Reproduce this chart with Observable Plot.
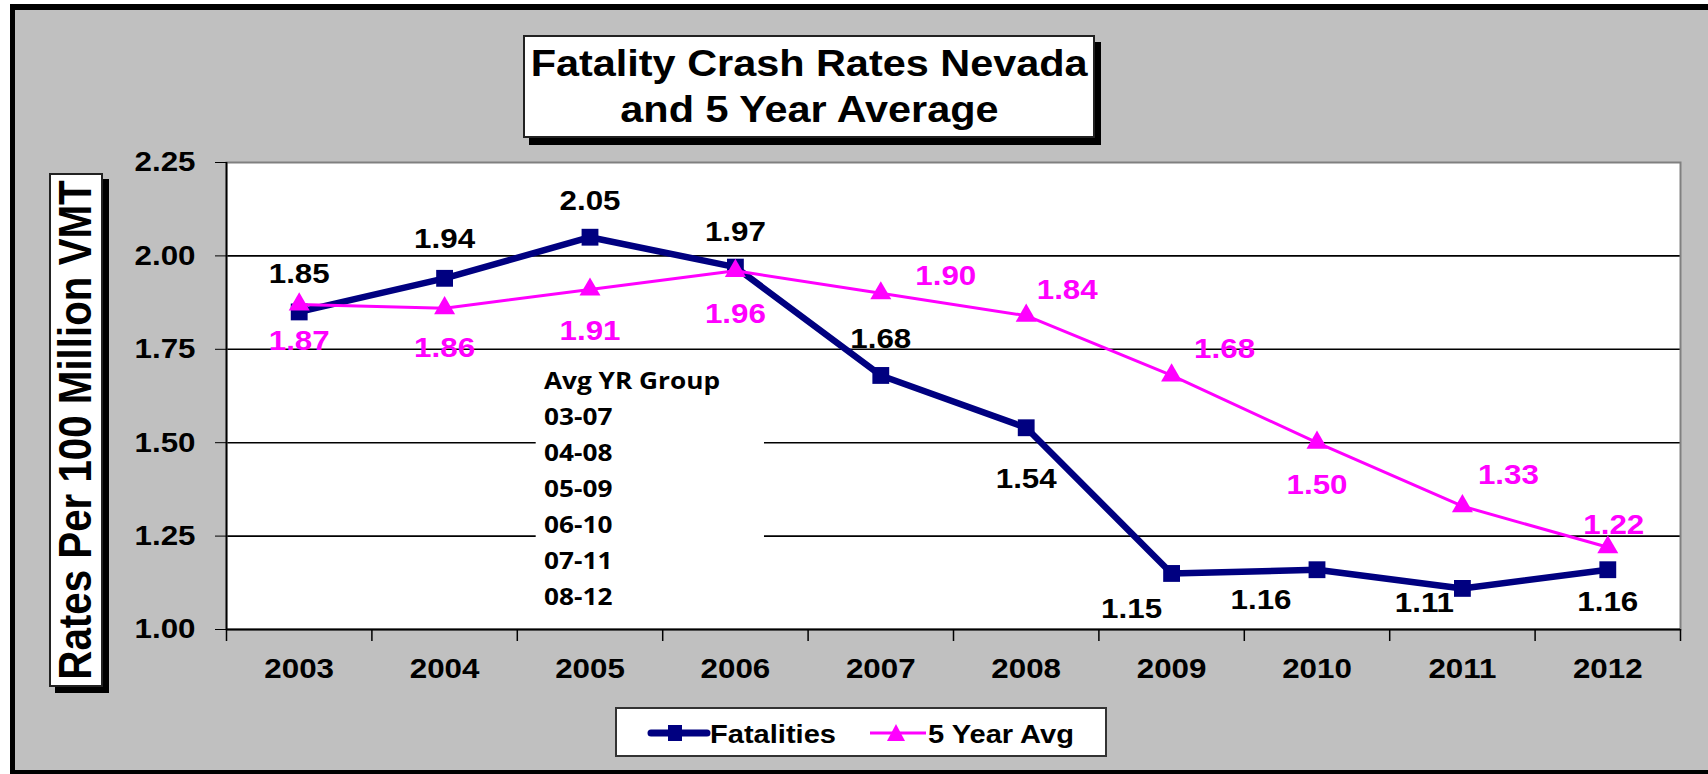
<!DOCTYPE html>
<html>
<head>
<meta charset="utf-8">
<script src="https://cdn.jsdelivr.net/npm/d3@7"></script>
<script src="https://cdn.jsdelivr.net/npm/@observablehq/plot@0.6"></script>
<style>
  html, body { margin: 0; padding: 0; background: #ffffff; }
  #wrap { position: relative; width: 1708px; height: 774px; overflow: hidden; background: #ffffff; }
  #bg { position: absolute; left: 10px; top: 4px; width: 1720px; height: 760px; background: #C0C0C0;
        border-top: 6px solid #000; border-left: 5px solid #000; border-bottom: 4px solid #000; }
  #chart { position: absolute; left: 0; top: 0; }
  #title { position: absolute; left: 523px; top: 35px; width: 572px; height: 103px; box-sizing: border-box;
           border: 2px solid #222; background: #fff; box-shadow: 6px 7px 0 #000;
           font-family: 'Liberation Sans', Arial, sans-serif; font-weight: bold; font-size: 36px;
           line-height: 46px; text-align: center; padding-top: 4px; color: #000; }
  #title span { display: inline-block; transform: scaleX(1.15); white-space: nowrap; }
  #ylab { position: absolute; left: 49px; top: 173px; width: 54px; height: 514px; box-sizing: border-box;
          border: 2px solid #222; background: #fff; box-shadow: 6px 6px 0 #000; }
  #ylab span { position: absolute; left: 50%; top: 50%; white-space: nowrap;
               transform: translate(-50%, -50%) rotate(-90deg) scaleY(1.14);
               font-family: 'Liberation Sans', Arial, sans-serif; font-weight: bold; font-size: 40.3px; color: #000; }
  #legend { position: absolute; left: 615px; top: 707px; }
</style>
</head>
<body>
<div id="wrap">
  <div id="bg"></div>
  <div id="chart"></div>
  <div id="title"></div>
  <div id="ylab"><span></span></div>
  <svg id="legend" width="494" height="52"></svg>
</div>
<script>
// ---------- data ----------
const years = [2003, 2004, 2005, 2006, 2007, 2008, 2009, 2010, 2011, 2012];
const fatalities = [1.85, 1.94, 2.05, 1.97, 1.68, 1.54, 1.15, 1.16, 1.11, 1.16];
const fiveYearAvg = [1.87, 1.86, 1.91, 1.96, 1.90, 1.84, 1.68, 1.50, 1.33, 1.22];
const yTicks = [1.00, 1.25, 1.50, 1.75, 2.00, 2.25];
const gridValues = [1.25, 1.50, 1.75, 2.00];
const avgGroups = ["Avg YR Group", "03-07", "04-08", "05-09", "06-10", "07-11", "08-12"];
const seriesNames = ["Fatalities", "5 Year Avg"];
const titleLines = ["Fatality Crash Rates Nevada", "and 5 Year Average"];
const yLabel = "Rates Per 100 Million VMT";

// ---------- label placement (pixel offsets from each point: [dx, baseline dy]) ----------
const fatalOffsets = [[0, -29], [0, -30], [0, -27], [0, -26], [0, -27], [0, 60], [-40, 45], [-56, 39], [-38, 24], [0, 41]];
const avgOffsets   = [[0, 46], [0, 49], [0, 50], [0, 52], [65, -8], [41, -17], [53, -17], [0, 51], [46, -22], [6, -13]];

// ---------- styles ----------
const NAVY = "#000080", MAGENTA = "#FF00FF";
const FONT = "'Liberation Sans', Arial, sans-serif";
const STRETCH = 1.14;
const fmt = d3.format(".2f");

const fat = years.map((y, i) => ({year: y, value: fatalities[i]}));
const avg = years.map((y, i) => ({year: y, value: fiveYearAvg[i]}));
const bounds = [...years.map(y => y - 0.5), years[years.length - 1] + 0.5];
const xMin = bounds[0], xMax = bounds[bounds.length - 1];

const labelMarks = [
  ...fat.map((d, i) => Plot.text([d], {x: "year", y: "value", text: d => fmt(d.value),
      dx: fatalOffsets[i][0], dy: fatalOffsets[i][1], lineAnchor: "bottom",
      fill: "#000", fontSize: 27.5, fontWeight: "bold", fontFamily: FONT})),
  ...avg.map((d, i) => Plot.text([d], {x: "year", y: "value", text: d => fmt(d.value),
      dx: avgOffsets[i][0], dy: avgOffsets[i][1], lineAnchor: "bottom",
      fill: MAGENTA, fontSize: 27.5, fontWeight: "bold", fontFamily: FONT}))
];

const plot = Plot.plot({
  width: 1708, height: 774,
  marginLeft: 226, marginRight: 28, marginTop: 162, marginBottom: 145,
  style: {background: "transparent", fontFamily: FONT, fontWeight: "bold", fontSize: "27px", color: "#000", overflow: "visible"},
  x: {domain: [xMin, xMax]},
  y: {domain: [yTicks[0], yTicks[yTicks.length - 1]]},
  marks: [
    Plot.frame({fill: "white"}),
    Plot.ruleY(gridValues, {stroke: "#000", strokeWidth: 1.6}),
    // white annotation box behind the "Avg YR Group" list
    Plot.rect([0], {x1: () => 2004.63, x2: () => 2006.2, y1: () => 1.04, y2: () => 1.72, fill: "white"}),
    Plot.text([avgGroups.join("\n")], {x: () => 2005, y: () => 1.713, text: d => d, textAnchor: "start",
      lineAnchor: "top", lineHeight: 36 / 23, dx: -46, fontFamily: "'Open Sans', sans-serif",
      fontSize: 23, fontWeight: "bold", fill: "#000"}),
    Plot.frame({stroke: "#808080", strokeWidth: 2}),
    Plot.ruleX([xMin], {stroke: "#000", strokeWidth: 1.8}),
    Plot.ruleY([yTicks[0]], {stroke: "#000", strokeWidth: 1.8}),
    Plot.axisY({ticks: yTicks, tickFormat: fmt, tickSize: 11, tickPadding: 20, label: null,
      fontSize: 27.5, fontWeight: "bold", stroke: "#000"}),
    Plot.axisX({ticks: bounds, tickFormat: () => "", tickSize: 12, label: null, stroke: "#000", strokeWidth: 1.5}),
    Plot.axisX({ticks: years, tickFormat: d => String(d), tickSize: 0, tickPadding: 29, label: null,
      fontSize: 27.5, fontWeight: "bold"}),
    Plot.line(fat, {x: "year", y: "value", stroke: NAVY, strokeWidth: 6.5, strokeLinejoin: "round"}),
    Plot.dot(fat, {x: "year", y: "value", symbol: "square", r: 9.5, fill: NAVY, stroke: "none"}),
    Plot.line(avg, {x: "year", y: "value", stroke: MAGENTA, strokeWidth: 3, strokeLinejoin: "round"}),
    Plot.dot(avg, {x: "year", y: "value", symbol: "triangle", r: 7.8, fill: MAGENTA, stroke: "none"}),
    ...labelMarks
  ]
});

// stretch text horizontally around each text's anchor (the original's lettering is wide)
plot.querySelectorAll("text").forEach(t => {
  const x = parseFloat(t.getAttribute("x")) || 0;
  const tr = t.getAttribute("transform") || "";
  t.setAttribute("transform", `${tr} translate(${x},0) scale(${STRETCH},1) translate(${-x},0)`);
});
document.getElementById("chart").appendChild(plot);

// title
document.getElementById("title").innerHTML = titleLines.map(l => `<span>${l}</span>`).join("<br>");
// y label
document.querySelector("#ylab span").textContent = yLabel;

// legend
const lg = d3.select("#legend");
lg.append("rect").attr("x", 1).attr("y", 1).attr("width", 490).attr("height", 48)
  .attr("fill", "#fff").attr("stroke", "#333").attr("stroke-width", 2);
// Fatalities entry
lg.append("line").attr("x1", 36).attr("x2", 92).attr("y1", 26).attr("y2", 26)
  .attr("stroke", NAVY).attr("stroke-width", 7).attr("stroke-linecap", "round");
lg.append("rect").attr("x", 53).attr("y", 18).attr("width", 14).attr("height", 16).attr("fill", NAVY);
lg.append("text").attr("transform", `translate(95,36) scale(${STRETCH},1)`)
  .attr("font-family", FONT).attr("font-weight", "bold").attr("font-size", 25.5).attr("fill", "#000")
  .text(seriesNames[0]);
// 5 Year Avg entry
lg.append("line").attr("x1", 255).attr("x2", 311).attr("y1", 26).attr("y2", 26)
  .attr("stroke", MAGENTA).attr("stroke-width", 3);
lg.append("path").attr("d", "M281,17 L290,34 L272,34 Z").attr("fill", MAGENTA);
lg.append("text").attr("transform", `translate(313,36) scale(${STRETCH},1)`)
  .attr("font-family", FONT).attr("font-weight", "bold").attr("font-size", 25.5).attr("fill", "#000")
  .text(seriesNames[1]);
</script>
</body>
</html>
